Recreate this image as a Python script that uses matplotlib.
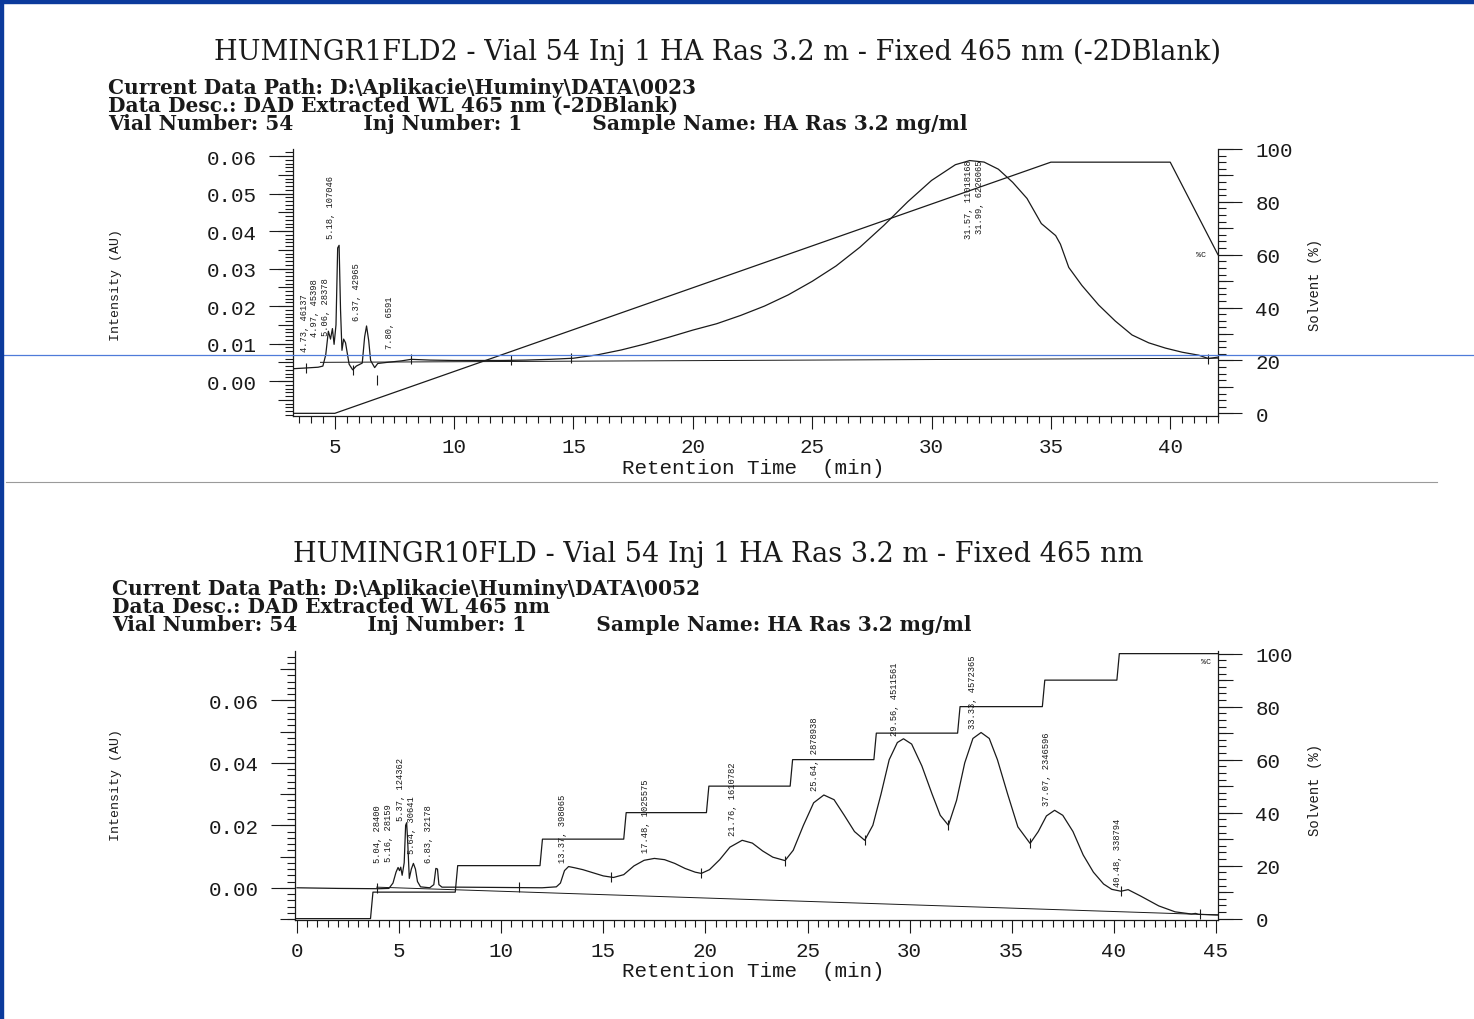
import numpy as np
import matplotlib.pyplot as plt
from matplotlib.ticker import MultipleLocator, FormatStrFormatter
from matplotlib.patches import Rectangle
from matplotlib.lines import Line2D

# ---------------- upper run: HUMINGR1FLD2 (linear gradient) ----------------
top_rt = [3.25, 3.8, 4.3, 4.5, 4.62, 4.73, 4.82, 4.9, 4.97, 5.05, 5.12, 5.18, 5.24,
          5.3, 5.37, 5.45, 5.6, 5.75, 5.9, 6.15, 6.25, 6.33, 6.42, 6.5, 6.67, 6.8,
          7.2, 7.8, 8.2, 9.0, 10.0, 11.0, 12.0, 13.0, 14.0, 15.0, 16.0, 17.0, 18.0,
          19.0, 20.0, 21.0, 22.0, 23.0, 24.0, 25.0, 26.0, 27.0, 28.0, 29.0, 30.0,
          31.0, 31.6, 32.2, 32.8, 33.4, 34.0, 34.6, 35.2, 35.4, 35.75, 36.3, 37.0,
          37.7, 38.4, 39.1, 39.8, 40.5, 41.2, 41.6, 42.0]
top_au = [0.0033, 0.0035, 0.0037, 0.0040, 0.0070, 0.0133, 0.0112, 0.0140, 0.0098,
          0.0150, 0.0355, 0.0362, 0.0190, 0.0082, 0.0112, 0.0102, 0.0045, 0.0030,
          0.0040, 0.0048, 0.0118, 0.0147, 0.0108, 0.0055, 0.0036, 0.0047, 0.0050,
          0.0054, 0.0058, 0.0056, 0.0055, 0.0055, 0.0055, 0.0056, 0.0058, 0.0061,
          0.0070, 0.0083, 0.0099, 0.0117, 0.0136, 0.0153, 0.0175, 0.0200, 0.0230,
          0.0266, 0.0307, 0.0357, 0.0415, 0.0478, 0.0535, 0.0577, 0.0588, 0.0584,
          0.0565, 0.0530, 0.0487, 0.0420, 0.0388, 0.0365, 0.0303, 0.0255, 0.0203,
          0.0160, 0.0123, 0.0102, 0.0088, 0.0077, 0.0069, 0.0060, 0.0064]
top_base_rt = [4.4, 42.0]
top_base_au = [0.0050, 0.0061]
top_mark_rt = [3.8, 5.75, 6.75, 8.2, 12.4, 14.9, 41.6]
top_mark_au = [0.0035, 0.0030, 0.0003, 0.0058, 0.0055, 0.0061, 0.0060]
top_solv_rt = [3.25, 5.0, 35.0, 40.0, 42.0]
top_solv_pct = [0, 0, 95, 95, 60]
top_peak_rt = [4.73, 4.97, 5.06, 5.18, 6.37, 7.80, 31.57, 31.99]
top_peak_area = [46137, 45398, 28378, 107046, 42965, 6591, 11018168, 6226065]
top_lab_x = [3.75, 4.17, 4.59, 4.80, 5.92, 7.30, 31.53, 32.03]
top_lab_y = [0.0080, 0.0120, 0.0123, 0.0381, 0.0163, 0.0088, 0.0591, 0.0591]
top_lab_va = ['bottom'] * 6 + ['top', 'top']

# ---------------- lower run: HUMINGR10FLD (step gradient) ----------------
bot_rt = [0.0, 2.0, 4.0, 4.5, 4.7, 4.85, 4.95, 5.02, 5.08, 5.15, 5.25, 5.32, 5.37,
          5.42, 5.5, 5.6, 5.7, 5.8, 5.9, 6.05, 6.5, 6.7, 6.8, 6.88, 6.95, 7.1, 8.0,
          10.0, 12.0, 12.7, 12.9, 13.1, 13.3, 13.6, 14.0, 14.5, 15.0, 15.5, 16.0,
          16.5, 17.0, 17.5, 18.0, 18.5, 19.0, 19.5, 19.8, 20.2, 20.7, 21.2, 21.8,
          22.3, 22.8, 23.3, 23.9, 24.3, 24.8, 25.3, 25.8, 26.3, 26.8, 27.3, 27.8,
          28.2, 28.6, 29.0, 29.4, 29.7, 30.1, 30.6, 31.1, 31.5, 31.9, 32.3, 32.7,
          33.1, 33.5, 33.9, 34.3, 34.8, 35.3, 35.9, 36.3, 36.7, 37.1, 37.5, 38.0,
          38.5, 39.0, 39.5, 39.9, 40.35, 40.7, 41.3, 42.2, 43.0, 43.8, 44.0, 44.15,
          45.1]
bot_au = [0.0000, -0.0002, -0.0003, -0.0002, 0.0015, 0.0050, 0.0065, 0.0055, 0.0066,
          0.0040, 0.0080, 0.0200, 0.0208, 0.0150, 0.0030, 0.0060, 0.0078, 0.0060,
          0.0020, 0.0003, 0.0000, 0.0010, 0.0062, 0.0060, 0.0010, 0.0002, 0.0002,
          0.0001, 0.0000, 0.0003, 0.0015, 0.0055, 0.0068, 0.0064, 0.0058, 0.0048,
          0.0038, 0.0033, 0.0042, 0.0070, 0.0088, 0.0094, 0.0090, 0.0078, 0.0062,
          0.0050, 0.0046, 0.0058, 0.0090, 0.0130, 0.0152, 0.0143, 0.0118, 0.0098,
          0.0087, 0.0120, 0.0200, 0.0272, 0.0297, 0.0282, 0.0232, 0.0180, 0.0152,
          0.0200, 0.0300, 0.0410, 0.0465, 0.0477, 0.0460, 0.0390, 0.0300, 0.0232,
          0.0200, 0.0280, 0.0400, 0.0478, 0.0497, 0.0478, 0.0410, 0.0300, 0.0195,
          0.0142, 0.0180, 0.0230, 0.0248, 0.0232, 0.0180, 0.0105, 0.0050, 0.0012,
          -0.0005, -0.0011, -0.0006, -0.0026, -0.0058, -0.0077, -0.0084, -0.0082,
          -0.0085, -0.0087]
bot_base_rt = [3.9, 45.1]
bot_base_au = [0.0002, -0.0087]
bot_mark_rt = [3.9, 10.85, 15.4, 19.8, 23.9, 27.8, 31.9, 35.9, 40.35, 44.2]
bot_mark_au = [-0.0002, 0.0001, 0.0033, 0.0046, 0.0087, 0.0152, 0.0200, 0.0142,
               -0.0011, -0.0085]
bot_step_rt = [3.6, 7.75, 11.9, 16.0, 20.05, 24.15, 28.25, 32.35, 36.5, 40.15]
bot_step_pct = [10, 20, 30, 40, 50, 60, 70, 80, 90, 100]
bot_peak_rt = [5.04, 5.16, 5.37, 5.64, 6.83, 13.37, 17.48, 21.76, 25.64, 29.56,
               33.33, 37.07, 40.48]
bot_peak_area = [28400, 28159, 124362, 30641, 32178, 398065, 1025575, 1610782,
                 2878938, 4511561, 4572365, 2346596, 338794]
bot_lab_x = [3.95, 4.5, 5.05, 5.6, 6.45, 13.0, 17.08, 21.32, 25.33, 29.24, 33.06,
             36.72, 40.2]
bot_lab_y = [0.0081, 0.0087, 0.0216, 0.0110, 0.0081, 0.0081, 0.0113, 0.0168,
             0.0313, 0.0490, 0.0513, 0.0265, 0.0006]

# ---------------- figure ----------------
INK = '#1a1a1a'
MONO = 'Liberation Mono'
SERIF = 'DejaVu Serif'

fig = plt.figure(figsize=(14.74, 10.20), dpi=100)
fig.patch.set_facecolor('white')


def setup(rect, xlim, ylim, y2lim, ymaj, ymed, ymin):
    ax = fig.add_axes(rect)
    ax2 = ax.twinx()
    ax.set_xlim(*xlim)
    ax.set_ylim(*ylim)
    ax2.set_ylim(*y2lim)
    ax.patch.set_alpha(0)
    for a in (ax, ax2):
        a.spines['top'].set_visible(False)
        for s in a.spines.values():
            s.set_color(INK)
            s.set_linewidth(0.9)
    ax.spines['right'].set_visible(False)
    ax2.spines['left'].set_visible(False)
    ax2.spines['bottom'].set_visible(False)

    ax.xaxis.set_major_locator(MultipleLocator(5))
    ax.xaxis.set_minor_locator(MultipleLocator(0.5))
    ax.yaxis.set_major_locator(MultipleLocator(ymaj))
    ax.yaxis.set_minor_locator(MultipleLocator(ymin))
    ax.yaxis.set_major_formatter(FormatStrFormatter('%.2f'))
    ax2.yaxis.set_major_locator(MultipleLocator(20))
    ax2.yaxis.set_minor_locator(MultipleLocator(2.5))

    ax.tick_params(axis='x', which='major', length=9, width=0.8, pad=6,
                   labelsize=15, colors=INK)
    ax.tick_params(axis='x', which='minor', length=5, width=0.8, colors=INK)
    ax.tick_params(axis='y', which='major', length=17, width=0.8, pad=9,
                   labelsize=15, colors=INK)
    ax.tick_params(axis='y', which='minor', length=6, width=0.8, colors=INK)
    ax2.tick_params(axis='y', which='major', length=17, width=0.8, pad=10,
                    labelsize=15, colors=INK)
    ax2.tick_params(axis='y', which='minor', length=6, width=0.8, colors=INK)
    for lab in ax.get_xticklabels() + ax.get_yticklabels() + ax2.get_yticklabels():
        lab.set_fontfamily(MONO)

    # medium-length ticks
    sec = ax.secondary_yaxis('left')
    sec.set_yticks(np.arange(-0.01, 0.08, ymed))
    sec.set_yticklabels([])
    sec.tick_params(length=11, width=0.8, colors=INK)
    sec.spines['left'].set_visible(False)
    sec2 = ax2.secondary_yaxis('right')
    sec2.set_yticks(np.arange(0, 101, 10))
    sec2.set_yticklabels([])
    sec2.tick_params(length=11, width=0.8, colors=INK)
    sec2.spines['right'].set_visible(False)

    ax.set_xlabel('Retention Time  (min)', fontfamily=MONO, fontsize=15, color=INK)
    ax.set_ylabel('Intensity (AU)', fontfamily=MONO, fontsize=9.5, color=INK)
    ax2.set_ylabel('Solvent (%)', fontfamily=MONO, fontsize=10, color=INK)
    return ax, ax2


def header(y_title, title, x0, y_mid, path, desc):
    fig.text(0.487, y_title, title, ha='center', va='center', fontfamily=SERIF,
             fontsize=19.5, color=INK)
    block = ('Current Data Path: ' + path + '\n'
             'Data Desc.: ' + desc + '\n'
             'Vial Number: 54' + ' ' * 10 + 'Inj Number: 1' + ' ' * 10 +
             'Sample Name: HA Ras 3.2 mg/ml')
    fig.text(x0, y_mid, block, ha='left', va='center', fontfamily=SERIF,
             fontweight='bold', fontsize=14.5, linespacing=0.9, color=INK)


# ---------- upper panel ----------
header(0.949, 'HUMINGR1FLD2 - Vial 54 Inj 1 HA Ras 3.2 m - Fixed 465 nm (-2DBlank)',
       0.0733, 0.8961, r'D:\Aplikacie\Huminy\DATA\0023',
       'DAD Extracted WL 465 nm (-2DBlank)')

ax, ax2 = setup([0.1988, 0.5912, 0.6275, 0.2618], (3.25, 42.0), (-0.0093, 0.0619),
                (-1, 100), 0.01, 0.005, 0.001)
ax.plot(top_rt, top_au, color=INK, lw=0.9)
ax.plot(top_base_rt, top_base_au, color=INK, lw=0.7)
ax.plot(top_mark_rt, top_mark_au, ls='none', marker='|', ms=7, mew=0.8, color=INK)
ax2.plot(top_solv_rt, top_solv_pct, color=INK, lw=0.9)
ax2.text(41.3, 60, '%C', fontsize=6, fontfamily=MONO, ha='center', va='center',
         color=INK)
for rt, area, x, y, va in zip(top_peak_rt, top_peak_area, top_lab_x, top_lab_y,
                              top_lab_va):
    ax.text(x, y, f'{rt:.2f}, {area}', rotation=90, ha='center', va=va,
            fontsize=6.3, fontfamily=MONO, color=INK)
ax.xaxis.set_label_coords(0.498, -0.157)
ax.yaxis.set_label_coords(-0.185, 0.494)
ax2.yaxis.set_label_coords(1.097, 0.494)

# ---------- lower panel ----------
header(0.4559, 'HUMINGR10FLD - Vial 54 Inj 1 HA Ras 3.2 m - Fixed 465 nm',
       0.076, 0.4049, r'D:\Aplikacie\Huminy\DATA\0052', 'DAD Extracted WL 465 nm')

bx, bx2 = setup([0.2001, 0.0971, 0.6262, 0.2637], (-0.1, 45.1), (-0.0103, 0.0758),
                (-0.5, 101), 0.02, 0.01, 0.002)
bx.plot(bot_rt, bot_au, color=INK, lw=0.9)
bx.plot(bot_base_rt, bot_base_au, color=INK, lw=0.7)
bx.plot(bot_mark_rt, bot_mark_au, ls='none', marker='|', ms=7, mew=0.8, color=INK)

# step gradient drawn from the switching times
sx, sy = [-0.1], [0]
prev = 0
for t, p in zip(bot_step_rt, bot_step_pct):
    sx += [t, t + 0.12]
    sy += [prev, p]
    prev = p
sx.append(45.1)
sy.append(prev)
bx2.plot(sx, sy, color=INK, lw=0.9)
bx2.text(44.5, 97, '%C', fontsize=6, fontfamily=MONO, ha='center', va='center',
         color=INK)
for rt, area, x, y in zip(bot_peak_rt, bot_peak_area, bot_lab_x, bot_lab_y):
    bx.text(x, y, f'{rt:.2f}, {area}', rotation=90, ha='center', va='bottom',
            fontsize=6.3, fontfamily=MONO, color=INK)
bx.xaxis.set_label_coords(0.497, -0.152)
bx.yaxis.set_label_coords(-0.187, 0.506)
bx2.yaxis.set_label_coords(1.0975, 0.487)

# ---------- page decorations ----------
blue = '#0b3a9c'
fig.add_artist(Rectangle((0, 0), 3 / 1474, 1, transform=fig.transFigure,
                         color=blue, zorder=10))
fig.add_artist(Rectangle((0, 1 - 4 / 1020), 1, 4 / 1020, transform=fig.transFigure,
                         color=blue, zorder=10))
fig.add_artist(Line2D([0, 1], [1 - 356 / 1020] * 2, transform=fig.transFigure,
                      color='#4f7bd9', lw=0.9, zorder=9))
fig.add_artist(Line2D([0.004, 0.975], [1 - 483 / 1020] * 2, transform=fig.transFigure,
                      color='#9a9a9a', lw=0.8))

fig.savefig('out.png', dpi=100, facecolor='white')
